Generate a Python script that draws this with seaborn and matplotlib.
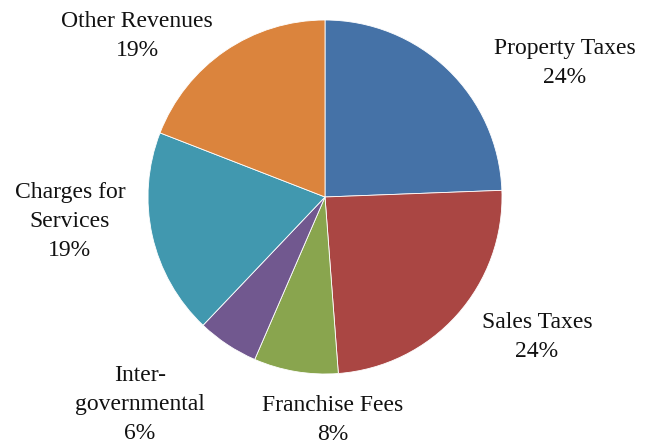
import matplotlib
matplotlib.use("Agg")
import matplotlib.pyplot as plt
import seaborn as sns

# slice data (clockwise from 12 o'clock)
categories = ["Property Taxes", "Sales Taxes", "Franchise Fees",
              "Inter-\ngovernmental", "Charges for\nServices", "Other Revenues"]
shares = [24.4, 24.4, 7.7, 5.6, 18.8, 19.1]
colors = ["#4572A7", "#AA4643", "#89A54E", "#71588F", "#4198AF", "#DB843D"]

# label anchor points, in pie-radius units
label_x = [1.356, 1.198, 0.045, -1.045, -1.441, -1.062]
label_y = [0.757, -0.791, -1.26, -1.175, -0.141, 0.910]

sns.set_theme(style="white")
plt.rcParams["font.family"] = ["Liberation Serif", "DejaVu Serif"]

fig = plt.figure(figsize=(6.45, 4.47), dpi=100)
ax = fig.add_axes([0, 0, 1, 1])

ax.pie(shares, colors=sns.color_palette(colors), startangle=90,
       counterclock=False, radius=1.0,
       wedgeprops={"linewidth": 0.6, "edgecolor": "white"})

for name, val, x, y in zip(categories, shares, label_x, label_y):
    ax.text(x, y, f"{name}\n{val:.0f}%", ha="center", va="center",
            fontsize=17, linespacing=1.5, color="#111111")

ax.set_xlim(-325 / 177, 320 / 177)
ax.set_ylim(-250 / 177, 197 / 177)
ax.set_aspect("auto")
ax.axis("off")

fig.savefig("out.png", dpi=100, facecolor="white")
